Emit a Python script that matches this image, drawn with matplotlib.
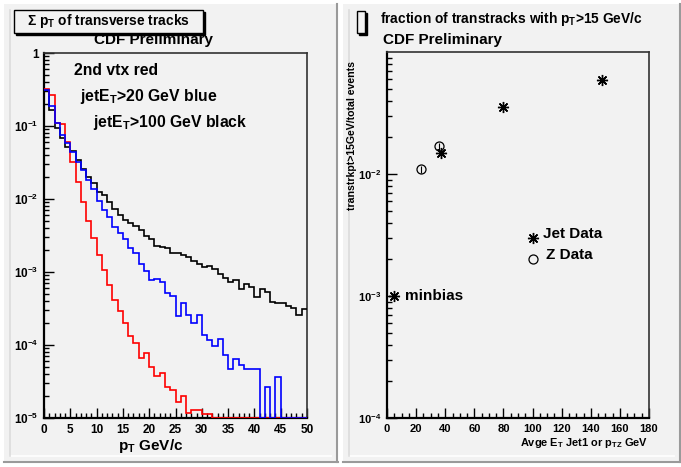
import numpy as np
import matplotlib.pyplot as plt
from matplotlib.patches import Rectangle
from matplotlib.ticker import FixedLocator, FixedFormatter, LogLocator, MultipleLocator, NullFormatter

plt.rcParams['font.family'] = ['Liberation Sans', 'DejaVu Sans']
plt.rcParams['font.weight'] = 'bold'
plt.rcParams['mathtext.fontset'] = 'custom'
plt.rcParams['mathtext.rm'] = 'Liberation Sans:bold'
plt.rcParams['mathtext.bf'] = 'Liberation Sans:bold'
plt.rcParams['mathtext.it'] = 'Liberation Sans:bold'
plt.rcParams['mathtext.sf'] = 'Liberation Sans:bold'

# ---- sum pT of transverse tracks, 1 GeV/c bins from 0 to 50 ----
pt_edges = np.arange(0, 51, 1)

sumpt_vtx2 = [0.32, 0.27, 0.11, 0.105, 0.061, 0.0324, 0.0170, 0.0091, 0.0050, 0.0029,
              0.0017, 0.00105, 0.00066, 0.00041, 0.00029, 0.00020, 0.000133, 0.000105, 0.000066, 0.000077,
              0.000050, 0.000038, 0.000041, 0.000027, 0.000024, 0.0000167, 0.000020, 0.0000118, 0.0000129, 0.000013,
              0.0000112, 0.0000112, 0, 0, 0, 0, 0, 0, 0, 0,
              0, 0, 0, 0, 0, 0, 0, 0, 0, 0]

sumpt_jet20 = [0.31, 0.185, 0.11, 0.075, 0.058, 0.044, 0.032, 0.025, 0.018, 0.0135,
               0.0095, 0.0071, 0.0057, 0.0041, 0.0034, 0.0028, 0.0021, 0.0018, 0.00127, 0.00102,
               0.00077, 0.00080, 0.00072, 0.00051, 0.00047, 0.00025, 0.00038, 0.00026, 0.00020, 0.00026,
               0.000137, 0.000117, 0.000098, 0.00012, 0.000073, 0.000047, 0.000064, 0.000054, 0.000047, 0.000047,
               0.000047, 0, 0.000027, 0, 0.000036, 0, 0, 0, 0, 0]

sumpt_jet100 = [0.31, 0.166, 0.093, 0.068, 0.052, 0.045, 0.034, 0.026, 0.020, 0.0164,
                0.0126, 0.0114, 0.0092, 0.0072, 0.0060, 0.0051, 0.0047, 0.0043, 0.0038, 0.0031,
                0.0028, 0.0023, 0.0022, 0.0021, 0.0018, 0.0018, 0.0017, 0.0016, 0.0014, 0.0013,
                0.00118, 0.0012, 0.0011, 0.00093, 0.00084, 0.00074, 0.00077, 0.00058, 0.00068, 0.00063,
                0.00045, 0.00058, 0.00054, 0.00039, 0.00038, 0.00038, 0.00034, 0.00032, 0.00026, 0.00031]

# ---- fraction of transverse tracks with pT > 15 GeV/c ----
jet_et = [37, 80, 148]
jet_frac = [0.0148, 0.0352, 0.059]
z_pt = [23.5, 35.5]
z_frac = [0.0109, 0.0169]
z_err = [0.0007, 0.0011]
minbias_et = [4.5]
minbias_frac = [0.001]
key_x = [100, 100]
key_y = [0.003, 0.002]

W, H = 681, 467
PAD = '#f2f2f2'


def fx(px):
    return px / W


def fy(py):
    return 1 - py / H


fig = plt.figure(figsize=(W / 100, H / 100), dpi=100, facecolor='white')

# canvas pads with bevelled borders
for x0, x1 in [(4, 338), (343, 681)]:
    fig.patches.append(Rectangle((fx(x0), fy(463)), fx(x1 - x0), (463 - 4) / H,
                                 transform=fig.transFigure, facecolor=PAD,
                                 edgecolor='none', zorder=-5))
    fig.add_artist(plt.Line2D([fx(x0), fx(x1)], [fy(462), fy(462)], color='#9a9a9a', lw=1.5, zorder=-4))
    fig.add_artist(plt.Line2D([fx(x1 - 1), fx(x1 - 1)], [fy(4), fy(462)], color='#9a9a9a', lw=1.5, zorder=-4))
    fig.add_artist(plt.Line2D([fx(x0 + 6), fx(x1 - 7)], [fy(456), fy(456)], color='white', lw=1.2, zorder=-4))
    fig.add_artist(plt.Line2D([fx(x0 + 6), fx(x0 + 6)], [fy(10), fy(456)], color='#dcdcdc', lw=1.2, zorder=-4))


def title_box(x0, y0, x1, y1):
    fig.patches.append(Rectangle((fx(x0 + 2), fy(y1 + 2)), fx(x1 - x0), (y1 - y0) / H,
                                 transform=fig.transFigure, facecolor='black',
                                 edgecolor='black', zorder=5))
    fig.patches.append(Rectangle((fx(x0), fy(y1)), fx(x1 - x0), (y1 - y0) / H,
                                 transform=fig.transFigure, facecolor=PAD,
                                 edgecolor='black', lw=1, zorder=6))


def ftext(px, py, s, size, **kw):
    kw.setdefault('ha', 'left')
    kw.setdefault('va', 'baseline')
    fig.text(fx(px), fy(py), s, fontsize=size, fontweight='bold', zorder=7, **kw)


def style_axes(ax, labelsize):
    ax.set_facecolor(PAD)
    for s in ['left', 'bottom']:
        ax.spines[s].set_linewidth(1.6)
        ax.spines[s].set_color('black')
    for s in ['top', 'right']:
        ax.spines[s].set_linewidth(1.2)
        ax.spines[s].set_color('#333333')
    ax.tick_params(which='major', direction='in', length=7, width=1, labelsize=labelsize, pad=4)
    ax.tick_params(which='minor', direction='in', length=3.5, width=1)
    ax.tick_params(axis='y', which='both', right=False)
    ax.tick_params(axis='x', which='both', top=False)


def decade_labels(lo, hi):
    exps = list(range(lo, hi + 1))
    labels = ['1' if e == 0 else r'$\mathbf{10^{%d}}$' % e for e in exps]
    return [10.0 ** e for e in exps], labels


# ---------------- left panel ----------------
axl = fig.add_axes([fx(44), fy(418), fx(307 - 44), (418 - 53) / H])
style_axes(axl, 8.5)
ymin_l = 1e-5
for vals, col in [(sumpt_jet100, 'black'), (sumpt_vtx2, 'red'), (sumpt_jet20, 'blue')]:
    axl.stairs(np.maximum(np.asarray(vals, dtype=float), ymin_l), pt_edges,
               baseline=None, color=col, lw=1.2, zorder=3)
axl.set_yscale('log')
axl.set_xlim(0, 50)
axl.set_ylim(ymin_l, 1)
locs, labs = decade_labels(-5, 0)
axl.yaxis.set_major_locator(FixedLocator(locs))
axl.yaxis.set_major_formatter(FixedFormatter(labs))
axl.yaxis.set_minor_locator(LogLocator(base=10, subs=np.arange(2, 10)))
axl.yaxis.set_minor_formatter(NullFormatter())
axl.xaxis.set_major_locator(MultipleLocator(5))
axl.xaxis.set_minor_locator(MultipleLocator(1))

ftext(151, 450, r'$\mathbf{p_{T}}$ GeV/c', 11, ha='center')
ftext(74, 75, '2nd vtx red', 11.3)
ftext(80, 101, r'jetE$_{\mathbf{T}}$>20 GeV blue', 11.3)
ftext(93, 127, r'jetE$_{\mathbf{T}}$>100 GeV black', 11.3)

title_box(14, 10, 203, 33)
ftext(27, 25, r'Σ $\mathbf{p_{T}}$ of transverse tracks', 9.9)
ftext(153, 44, 'CDF Preliminary', 11, ha='center')

# ---------------- right panel ----------------
axr = fig.add_axes([fx(387), fy(418), fx(649 - 387), (418 - 52) / H])
style_axes(axr, 8)
axr.set_yscale('log')
axr.set_xlim(0, 180)
axr.set_ylim(1e-4, 1e-1)
locs, labs = decade_labels(-4, -1)
axr.yaxis.set_major_locator(FixedLocator(locs[:-1]))
axr.yaxis.set_major_formatter(FixedFormatter(labs[:-1]))
axr.yaxis.set_minor_locator(LogLocator(base=10, subs=np.arange(2, 10)))
axr.yaxis.set_minor_formatter(NullFormatter())
axr.xaxis.set_major_locator(MultipleLocator(20))
axr.xaxis.set_minor_locator(MultipleLocator(5))

star = (8, 2, 0)
axr.plot(jet_et, jet_frac, ls='none', marker=star, ms=8, mew=1.0, color='black', zorder=4)
axr.plot(minbias_et, minbias_frac, ls='none', marker=star, ms=8, mew=1.0, color='black', zorder=4)
axr.errorbar(z_pt, z_frac, yerr=z_err, fmt='o', mfc='none', mec='black', ms=6.5, mew=0.9,
             ecolor='black', elinewidth=0.8, capsize=0, zorder=4)
axr.plot(key_x[:1], key_y[:1], ls='none', marker=star, ms=8, mew=1.0, color='black')
axr.plot(key_x[1:], key_y[1:], ls='none', marker='o', mfc='none', mec='black', ms=6.5, mew=0.9)
axr.text(107, key_y[0], 'Jet Data', fontsize=11, fontweight='bold', va='baseline', ha='left')
axr.text(109, key_y[1], 'Z Data', fontsize=11, fontweight='bold', va='baseline', ha='left')
axr.text(12.4, 0.00093, 'minbias', fontsize=11, fontweight='bold', va='baseline', ha='left')

ftext(648, 446, r'Avge E$_{\mathbf{T}}$ Jet1 or p$_{\mathbf{TZ}}$ GeV', 7.9, ha='right')
fig.text(fx(352), fy(61), 'transtrkpt>15GeV/total events', fontsize=7.6, fontweight='bold',
         rotation=90, va='top', ha='center')

title_box(357, 11, 365, 33)
ftext(380, 23, r'fraction of transtracks with p$_{\mathbf{T}}$>15 GeV/c', 9.9)
ftext(383, 44, 'CDF Preliminary', 11)

fig.savefig('out.png', dpi=100, facecolor='white')
